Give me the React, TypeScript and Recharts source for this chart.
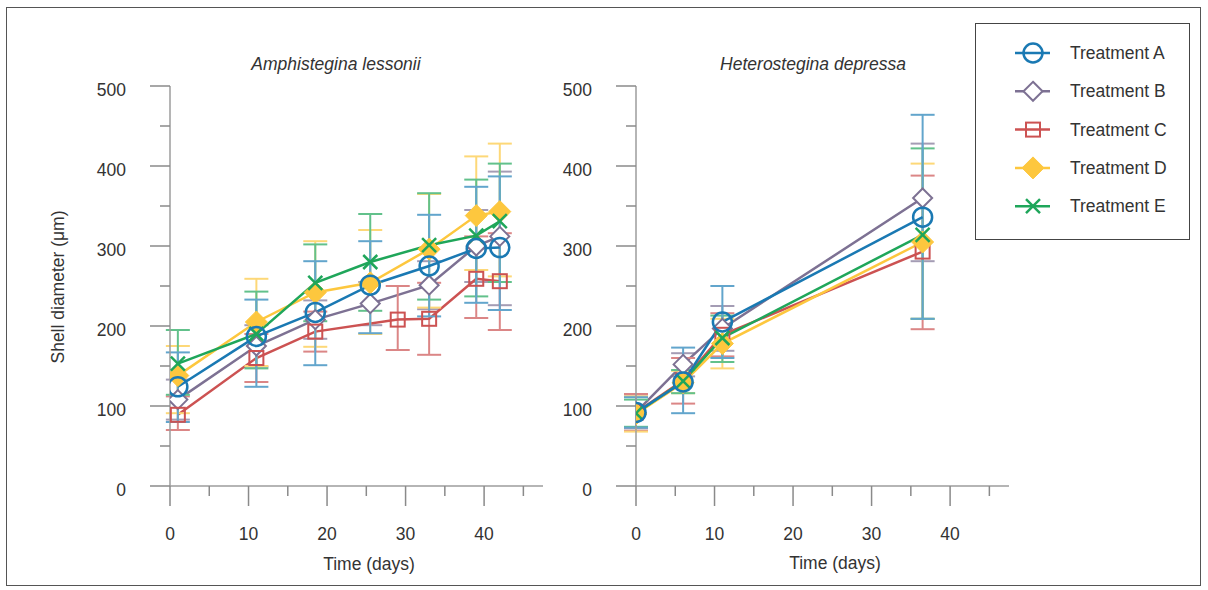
import React from 'react';
import { LineChart, Line, XAxis, YAxis, ErrorBar } from 'recharts';

// ---------- data ----------
const seriesNames = ['Treatment A', 'Treatment B', 'Treatment C', 'Treatment D', 'Treatment E'];
const panelTitles = ['Amphistegina lessonii', 'Heterostegina depressa'];
const xAxisTitle = 'Time (days)';
const yAxisTitle = 'Shell diameter (μm)';

const yTicks = [0, 50, 100, 150, 200, 250, 300, 350, 400, 450, 500];
const xTicks = [0, 5, 10, 15, 20, 25, 30, 35, 40, 45];

// Left panel: Amphistegina lessonii
const leftTimes = [1, 11, 18.5, 25.5, 33, 39, 42];
const leftTimesC = [1, 11, 18.5, 29, 33, 39, 42];
const leftA = [124, 187, 217, 251, 275, 297, 298];
const leftAErr = [[44, 43], [63, 46], [66, 64], [60, 55], [63, 64], [68, 77], [78, 89]];
const leftB = [108, 175, 208, 228, 251, 300, 312];
const leftBErr = [[25, 25], [26, 26], [24, 24], [27, 27], [30, 30], [45, 45], [86, 81]];
const leftC = [89, 160, 193, 208, 209, 259, 256];
const leftCErr = [[19, 23], [30, 30], [25, 25], [38, 42], [45, 45], [49, 53], [61, 60]];
const leftD = [138, 205, 242, 254, 296, 338, 343];
const leftDErr = [[47, 37], [55, 54], [68, 64], [64, 66], [73, 69], [68, 74], [81, 85]];
const leftE = [153, 190, 254, 280, 301, 313, 331];
const leftEErr = [[39, 42], [43, 53], [48, 48], [61, 60], [68, 65], [76, 70], [76, 72]];

// Right panel: Heterostegina depressa
const rightTimes = [0, 6, 11, 36.5];
const rightA = [92, 130, 205, 336];
const rightAErr = [[19, 19], [39, 43], [45, 45], [127, 128]];
const rightB = [92, 152, 197, 360];
const rightBErr = [[20, 20], [15, 14], [28, 28], [79, 68]];
const rightC = [92, 132, 189, 293];
const rightCErr = [[23, 23], [29, 28], [27, 27], [97, 95]];
const rightD = [90, 129, 178, 305];
const rightDErr = [[22, 22], [13, 15], [31, 31], [96, 98]];
const rightE = [91, 131, 185, 314];
const rightEErr = [[17, 17], [15, 14], [30, 28], [105, 108]];

// ---------- styles ----------
const lineColors = ['#1a79b3', '#7d7193', '#cc5252', '#fdc73e', '#1fa65a'];
const errColors = ['#62a5cc', '#a49cb4', '#db8686', '#fdd878', '#62c18b'];
const markerKinds = ['circle', 'diamondOpen', 'square', 'diamondFilled', 'cross'];
const FONT = '"Liberation Sans", Arial, Helvetica, sans-serif';
const TEXT = '#333333';
const AXIS = '#9c9c9c';

type Pt = { x: number; y: number; err: number[] };
const build = (times: number[], means: number[], errs: number[][]): Pt[] =>
  times.map((t, i) => ({ x: t, y: means[i], err: errs[i] }));

const leftSeries = [
  build(leftTimes, leftA, leftAErr),
  build(leftTimes, leftB, leftBErr),
  build(leftTimesC, leftC, leftCErr),
  build(leftTimes, leftD, leftDErr),
  build(leftTimes, leftE, leftEErr),
];
const rightSeries = [
  build(rightTimes, rightA, rightAErr),
  build(rightTimes, rightB, rightBErr),
  build(rightTimes, rightC, rightCErr),
  build(rightTimes, rightD, rightDErr),
  build(rightTimes, rightE, rightEErr),
];

function Marker({ kind, color, cx, cy }: { kind: string; color: string; cx: number; cy: number }) {
  if (cx == null || cy == null) return null;
  switch (kind) {
    case 'circle':
      return <circle cx={cx} cy={cy} r={9.5} fill="none" stroke={color} strokeWidth={2.5} />;
    case 'diamondOpen': {
      const h = 9.5;
      return (
        <polygon
          points={`${cx},${cy - h} ${cx + h},${cy} ${cx},${cy + h} ${cx - h},${cy}`}
          fill="#ffffff"
          stroke={color}
          strokeWidth={2}
        />
      );
    }
    case 'square':
      return <rect x={cx - 7} y={cy - 7} width={14} height={14} fill="none" stroke={color} strokeWidth={2} />;
    case 'diamondFilled': {
      const h = 11;
      return (
        <polygon
          points={`${cx},${cy - h} ${cx + h},${cy} ${cx},${cy + h} ${cx - h},${cy}`}
          fill={color}
          stroke={color}
          strokeWidth={1}
        />
      );
    }
    case 'cross':
    default:
      return (
        <g stroke={color} strokeWidth={2.5}>
          <line x1={cx - 7} y1={cy - 7} x2={cx + 7} y2={cy + 7} />
          <line x1={cx - 7} y1={cy + 7} x2={cx + 7} y2={cy - 7} />
        </g>
      );
  }
}

const YTick = (props: any) => {
  const { x, y, payload } = props;
  const v = payload.value as number;
  const major = v % 100 === 0;
  return (
    <g>
      <line x1={x - (major ? 20 : 10)} x2={x} y1={y} y2={y} stroke="#8a8a8a" strokeWidth={1.5} />
      {major && (
        <text x={x - 44} y={y + 4} textAnchor="end" dominantBaseline="central" fontSize={17.5} fontFamily={FONT} fill={TEXT}>
          {v}
        </text>
      )}
    </g>
  );
};

const XTick = (props: any) => {
  const { x, y, payload } = props;
  const v = payload.value as number;
  const major = v % 10 === 0;
  return (
    <g>
      <line x1={x} x2={x} y1={y} y2={y + (major ? 20 : 10)} stroke="#8a8a8a" strokeWidth={1.5} />
      {major && (
        <text x={x} y={y + 48} textAnchor="middle" dominantBaseline="central" fontSize={17.5} fontFamily={FONT} fill={TEXT}>
          {v}
        </text>
      )}
    </g>
  );
};

// draw order: B, C, D, E, A (A on top)
const drawOrder = [1, 2, 3, 4, 0];

function Panel({ series, left }: { series: Pt[][]; left: number }) {
  // plot area: left 170 (relative offset), top 86, width 373, height 400
  return (
    <div style={{ position: 'absolute', left, top: 0 }}>
      <LineChart width={560} height={590} margin={{ top: 86, left: 110, right: 17, bottom: 44 }}>
        <XAxis
          type="number"
          dataKey="x"
          domain={[0, 47.5]}
          ticks={xTicks}
          interval={0}
          allowDataOverflow
          height={60}
          tickSize={0}
          tickMargin={0}
          tickLine={false}
          axisLine={{ stroke: AXIS, strokeWidth: 1.5 }}
          tick={<XTick />}
        />
        <YAxis
          type="number"
          domain={[0, 500]}
          ticks={yTicks}
          interval={0}
          width={60}
          tickSize={0}
          tickMargin={0}
          tickLine={false}
          axisLine={{ stroke: AXIS, strokeWidth: 1.5 }}
          tick={<YTick />}
        />
        {drawOrder.map((si) => (
          <Line
            key={seriesNames[si]}
            data={series[si]}
            dataKey="y"
            name={seriesNames[si]}
            type="linear"
            stroke={lineColors[si]}
            strokeWidth={2.5}
            isAnimationActive={false}
            activeDot={false}
            dot={(p: any) => (
              <Marker key={`${si}-${p.index}`} kind={markerKinds[si]} color={lineColors[si]} cx={p.cx} cy={p.cy} />
            )}
          >
            <ErrorBar dataKey="err" direction="y" width={12} stroke={errColors[si]} strokeWidth={2} isAnimationActive={false} />
          </Line>
        ))}
      </LineChart>
    </div>
  );
}

function LegendBox() {
  return (
    <div
      style={{
        position: 'absolute',
        left: 975,
        top: 23,
        width: 215,
        height: 217,
        border: '1px solid #444',
        background: '#fff',
        boxSizing: 'border-box',
      }}
    >
      <svg width={215} height={217} style={{ position: 'absolute', left: 0, top: 0 }}>
        {seriesNames.map((name, i) => {
          const cy = 29 + i * 38.3;
          return (
            <g key={name}>
              <line x1={39} x2={74} y1={cy} y2={cy} stroke={lineColors[i]} strokeWidth={2.5} />
              <Marker kind={markerKinds[i]} color={lineColors[i]} cx={57} cy={cy} />
              <text x={94} y={cy} dominantBaseline="central" fontSize={17.5} fontFamily={FONT} fill={TEXT}>
                {name}
              </text>
            </g>
          );
        })}
      </svg>
    </div>
  );
}

export default function App() {
  return (
    <div style={{ position: 'absolute', left: 0, top: 0, width: 1208, height: 590, background: '#fff', overflow: 'hidden' }}>
      <div style={{ position: 'absolute', left: 6, top: 7, width: 1195, height: 579, border: '1px solid #555', boxSizing: 'border-box' }} />
      <Panel series={leftSeries} left={0} />
      <Panel series={rightSeries} left={466} />
      <svg width={1208} height={590} style={{ position: 'absolute', left: 0, top: 0, pointerEvents: 'none' }}>
        <text x={336} y={64} textAnchor="middle" dominantBaseline="central" fontSize={17.5} fontStyle="italic" fontFamily={FONT} fill={TEXT}>
          {panelTitles[0]}
        </text>
        <text x={813} y={64} textAnchor="middle" dominantBaseline="central" fontSize={17.5} fontStyle="italic" fontFamily={FONT} fill={TEXT}>
          {panelTitles[1]}
        </text>
        <text x={369} y={564} textAnchor="middle" dominantBaseline="central" fontSize={17.5} fontFamily={FONT} fill={TEXT}>
          {xAxisTitle}
        </text>
        <text x={835} y={563} textAnchor="middle" dominantBaseline="central" fontSize={17.5} fontFamily={FONT} fill={TEXT}>
          {xAxisTitle}
        </text>
        <text
          x={58}
          y={287}
          textAnchor="middle"
          dominantBaseline="central"
          fontSize={17.5}
          fontFamily={FONT}
          fill={TEXT}
          transform="rotate(-90 58 287)"
        >
          {yAxisTitle}
        </text>
      </svg>
      <LegendBox />
    </div>
  );
}
